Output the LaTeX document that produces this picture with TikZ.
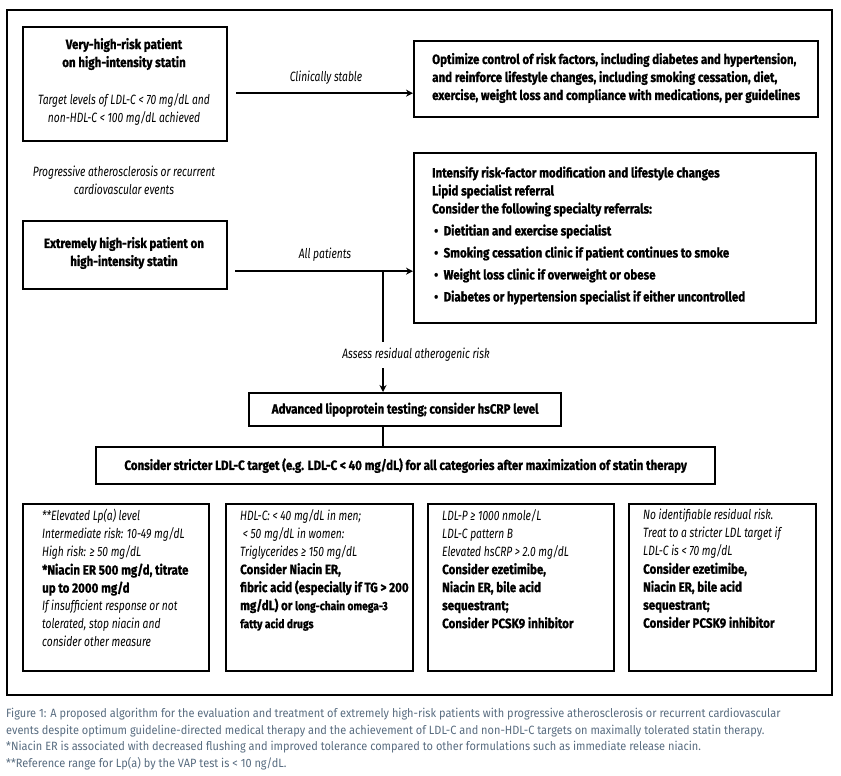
\documentclass[tikz,border=0pt]{standalone}
\usepackage{fontspec}
\setmainfont{Fira Sans}[FakeStretch=0.74,
  BoldFeatures={FakeStretch=0.855,FakeBold=1},
  ItalicFeatures={FakeStretch=0.76},
  BoldItalicFeatures={FakeStretch=0.855}]
\newfontfamily\capfont{Fira Sans}[FakeStretch=0.915]
\usetikzlibrary{arrows.meta}
\definecolor{capcol}{RGB}{88,108,128}
\begin{document}
\begin{tikzpicture}[x=1pt,y=-1pt,
  box/.style={draw, line width=2.3pt, inner sep=0pt, anchor=north west},
  nt/.style={font=\fontsize{13.5}{18}\selectfont, inner sep=0pt},
  bt/.style={font=\fontsize{13.5}{18}\selectfont\bfseries, inner sep=0pt},
  it/.style={font=\fontsize{13.5}{18}\selectfont\itshape, inner sep=0pt},
  arr/.style={line width=1.6pt, -{Stealth[length=7pt,width=7pt]}},
  plain/.style={line width=1.6pt},
]
\useasboundingbox (0,0) rectangle (841,776);
% outer frame
\node[box, line width=2pt, minimum width=825pt, minimum height=685pt] (frame) at (6,9) {};
% top left
\node[box, minimum width=204pt, minimum height=114pt] (b1) at (22,26) {};
\node[nt, align=center] (b1t) at (124,81.5) {\textbf{Very-high-risk patient}\\\textbf{on high-intensity statin}\\[19pt]\textit{Target levels of LDL-C < 70 mg/dL and}\\\textit{non-HDL-C < 100 mg/dL achieved}};
% top right
\node[box, minimum width=404pt, minimum height=76pt] (b2) at (413,40) {};
\node[bt, align=left, anchor=west] (b2t) at (432,78) {Optimize control of risk factors, including diabetes and hypertension,\\and reinforce lifestyle changes, including smoking cessation, diet,\\exercise, weight loss and compliance with medications, per guidelines};
\draw[arr] ([xshift=8pt,yshift=-9pt]b1.east) -- ([yshift=-9pt]b1.east -| b2.west);
\node[it] (l1) at (326,78) {Clinically stable};
% progressive
\node[it, align=center] (prog) at (124,180.5) {Progressive atherosclerosis or recurrent\\cardiovascular events};
% extremely
\node[box, minimum width=204pt, minimum height=68pt] (b3) at (22,220) {};
\node[bt, align=center] (b3t) at (124,253) {Extremely high-risk patient on\\high-intensity statin};
\node[box, minimum width=402pt, minimum height=170pt] (b4) at (413,152) {};
\node[bt, align=left, anchor=west] (b4t) at (432,235.5) {Intensify risk-factor modification and lifestyle changes\\Lipid specialist referral\\Consider the following specialty referrals:\\[4pt]
\hspace*{2pt}\textbullet\ \ Dietitian and exercise specialist\\[4pt]
\hspace*{2pt}\textbullet\ \ Smoking cessation clinic if patient continues to smoke\\[4pt]
\hspace*{2pt}\textbullet\ \ Weight loss clinic if overweight or obese\\[4pt]
\hspace*{2pt}\textbullet\ \ Diabetes or hypertension specialist if either uncontrolled};
\draw[arr] ([xshift=7pt,yshift=-16pt]b3.east) -- ([yshift=-16pt]b3.east -| b4.west);
\node[it] (l2) at (325,255) {All patients};
% middle
\coordinate (j) at (383,270);
\node[box, minimum width=312pt, minimum height=33pt] (b5) at (248,392) {};
\node[bt] (b5t) at (b5.center) {Advanced lipoprotein testing; consider hsCRP level};
\node[box, minimum width=619pt, minimum height=37pt] (b6) at (95,446) {};
\node[bt] (b6t) at (b6.center) {Consider stricter LDL-C target (e.g. LDL-C < 40 mg/dL) for all categories after maximization of statin therapy};
\draw[arr] (j) -- (j |- b5.north);
\node[it, fill=white, inner xsep=2pt, inner ysep=6pt] (l3) at (416,355) {Assess residual atherogenic risk};
\draw[plain] (j |- b5.south) -- (j |- b6.north);
% bottom boxes
\node[box, minimum width=186pt, minimum height=167pt] (c1) at (22,503) {};
\node[box, minimum width=187pt, minimum height=167pt] (c2) at (225,503) {};
\node[box, minimum width=186pt, minimum height=167pt] (c3) at (427,503) {};
\node[box, minimum width=187pt, minimum height=167pt] (c4) at (628,503) {};
\node[nt, align=left, anchor=north west] (c1t) at (42,509) {\textit{**Elevated Lp(a) level}\\\textit{Intermediate risk: 10-49 mg/dL}\\\textit{High risk: ≥ 50 mg/dL}\\\textbf{*Niacin ER 500 mg/d, titrate}\\\textbf{up to 2000 mg/d}\\\textit{If insufficient response or not}\\\textit{tolerated, stop niacin and}\\\textit{consider other measure}};
\node[nt, align=left, anchor=north west] (c2t) at (240,509) {\textit{HDL-C: < 40 mg/dL in men;}\\\textit{\ < 50 mg/dL in women:}\\\textit{Triglycerides ≥ 150 mg/dL}\\\textbf{Consider Niacin ER,}\\\textbf{fibric acid (especially if TG > 200}\\\textbf{mg/dL) or {\fontsize{12}{18}\selectfont long-chain omega-3}}\\\textbf{\fontsize{12}{18}\selectfont fatty acid drugs}};
\node[nt, align=left, anchor=north west] (c3t) at (442,509) {\textit{LDL-P ≥ 1000 nmole/L}\\\textit{LDL-C pattern B}\\\textit{Elevated hsCRP > 2.0 mg/dL}\\\textbf{Consider ezetimibe,}\\\textbf{Niacin ER, bile acid}\\\textbf{sequestrant;}\\\textbf{Consider PCSK9 inhibitor}};
\node[nt, align=left, anchor=north west] (c4t) at (643,509) {\textit{No identifiable residual risk.}\\\textit{Treat to a stricter LDL target if}\\\textit{LDL-C is < 70 mg/dL}\\\textbf{Consider ezetimibe,}\\\textbf{Niacin ER, bile acid}\\\textbf{sequestrant;}\\\textbf{Consider PCSK9 inhibitor}};
% caption
\node[inner sep=0pt, anchor=north west, align=left, text=capcol, font=\capfont\fontsize{12}{16.7}\selectfont] (cap) at (6,708) {Figure 1: A proposed algorithm for the evaluation and treatment of extremely high-risk patients with progressive atherosclerosis or recurrent cardiovascular\\events despite optimum guideline-directed medical therapy and the achievement of LDL-C and non-HDL-C targets on maximally tolerated statin therapy.\\*Niacin ER is associated with decreased flushing and improved tolerance compared to other formulations such as immediate release niacin.\\**Reference range for Lp(a) by the VAP test is < 10 ng/dL.};
\end{tikzpicture}
\end{document}
